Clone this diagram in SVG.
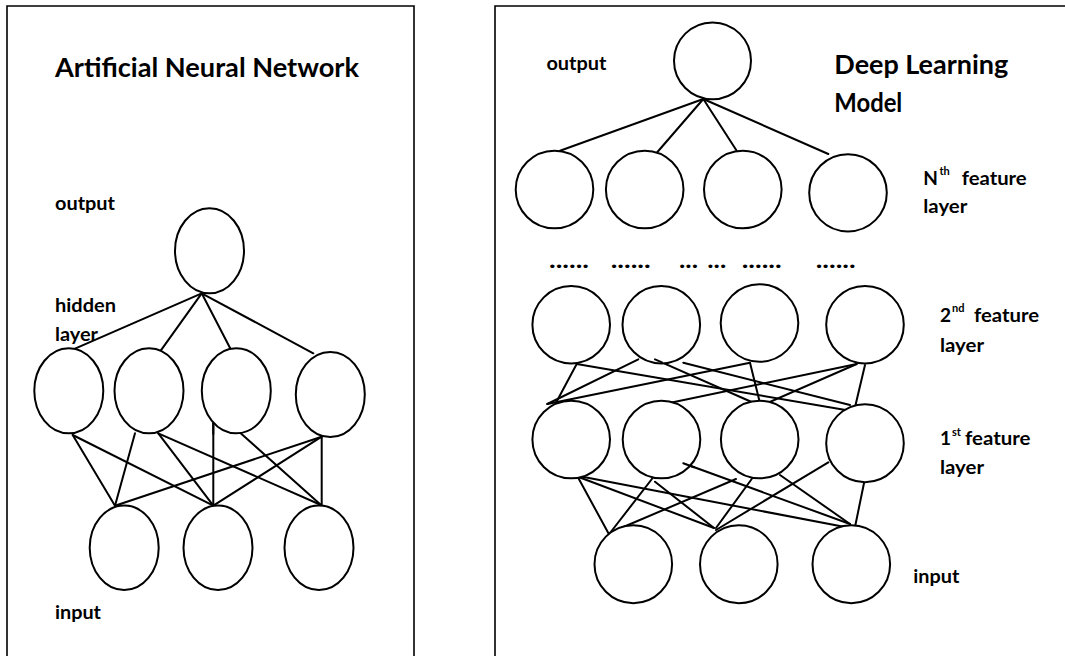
<svg xmlns="http://www.w3.org/2000/svg" width="1065" height="656" viewBox="0 0 1065 656">
<style>
.frame{fill:none;stroke:#000;stroke-width:1.6}
.node{fill:#fff;stroke:#000;stroke-width:2}
.edge line{stroke:#000;stroke-width:2;stroke-linecap:round}
.t{font-family:Lato,"Open Sans","Liberation Sans",sans-serif;font-weight:bold;fill:#000}
.title{font-size:27px}
.lbl{font-size:19px}
.sup{font-size:11px}
.dots{font-size:22px}
</style>
<rect width="1065" height="656" fill="#fff"/>
<!-- panel frames -->
<g id="frames">
<polyline class="frame" points="7,656 7,6 414,6 414,656"/>
<polyline class="frame" points="495,656 495,6 1065,6"/>
</g>

<!-- connectors -->
<g id="connectors" class="edge">
<!-- left: output -> hidden -->
<line x1="201.7" y1="293.3" x2="73.3" y2="349.3"/>
<line x1="201.7" y1="293.3" x2="160" y2="351.7"/>
<line x1="201.7" y1="293.3" x2="230.7" y2="349.3"/>
<line x1="201.7" y1="293.3" x2="313.3" y2="353.3"/>
<!-- left: hidden -> input -->
<line x1="72.7" y1="435" x2="115" y2="505.7"/>
<line x1="72.7" y1="435" x2="213.3" y2="505.7"/>
<line x1="135" y1="433.3" x2="115" y2="505.7"/>
<line x1="158.3" y1="433.3" x2="213.3" y2="505.7"/>
<line x1="158.3" y1="433.3" x2="321" y2="505"/>
<line x1="213.3" y1="423.3" x2="213.3" y2="505.7"/>
<line x1="240.7" y1="433.3" x2="321" y2="505"/>
<line x1="321.7" y1="436.7" x2="115" y2="505.7"/>
<line x1="321.7" y1="436.7" x2="213.3" y2="505.7"/>
<line x1="321.7" y1="436.7" x2="321.7" y2="505"/>
<!-- right: output -> Nth layer -->
<line x1="703.3" y1="99" x2="560" y2="150.7"/>
<line x1="703.3" y1="99" x2="655.7" y2="154"/>
<line x1="703.3" y1="99" x2="736.7" y2="150.7"/>
<line x1="703.3" y1="99" x2="828.3" y2="154"/>
<!-- right: 2nd -> 1st layer -->
<line x1="576.7" y1="364" x2="551.7" y2="410.7"/>
<line x1="576.7" y1="364" x2="850" y2="410.7"/>
<line x1="655" y1="359.3" x2="760.7" y2="406"/>
<line x1="683.3" y1="362.7" x2="850" y2="405"/>
<line x1="547.3" y1="404" x2="638.3" y2="359.3"/>
<line x1="547.3" y1="404" x2="750" y2="362.7"/>
<line x1="655" y1="406" x2="856.7" y2="364"/>
<line x1="760.7" y1="406" x2="856.7" y2="364"/>
<line x1="750" y1="362.7" x2="760.7" y2="406"/>
<line x1="865" y1="365" x2="855" y2="407.3"/>
<!-- right: 1st -> input -->
<line x1="576.7" y1="475" x2="608.3" y2="533"/>
<line x1="573.3" y1="475" x2="714" y2="528"/>
<line x1="573.3" y1="475" x2="845" y2="527"/>
<line x1="655" y1="475" x2="610" y2="533"/>
<line x1="655" y1="481.7" x2="714" y2="528"/>
<line x1="683.3" y1="463.3" x2="850" y2="524"/>
<line x1="736" y1="479" x2="614" y2="531"/>
<line x1="751.7" y1="479" x2="716" y2="528"/>
<line x1="780" y1="475" x2="850" y2="524"/>
<line x1="828.3" y1="462.3" x2="716" y2="530"/>
<line x1="865" y1="478.3" x2="855" y2="527"/>
</g>

<!-- left panel nodes -->
<g id="ann-output"><ellipse class="node" cx="209.5" cy="250.8" rx="34.5" ry="42.5"/></g>
<g id="ann-hidden-1"><ellipse class="node" cx="68.8" cy="390.8" rx="34.5" ry="42.5"/></g>
<g id="ann-hidden-2"><ellipse class="node" cx="149" cy="390.8" rx="34.5" ry="42.5"/></g>
<g id="ann-hidden-3"><ellipse class="node" cx="236.3" cy="390.8" rx="34.5" ry="42.5"/></g>
<g id="ann-hidden-4"><ellipse class="node" cx="330.3" cy="394.5" rx="34.5" ry="42.5"/></g>
<g id="ann-input-1"><ellipse class="node" cx="124.2" cy="547.8" rx="34.5" ry="42.2"/></g>
<g id="ann-input-2"><ellipse class="node" cx="218" cy="547.8" rx="34.5" ry="42.2"/></g>
<g id="ann-input-3"><ellipse class="node" cx="319" cy="547.8" rx="34.5" ry="42.2"/></g>

<!-- right panel nodes -->
<g id="dl-output"><ellipse class="node" cx="712.5" cy="60.8" rx="38.5" ry="38.4"/></g>
<g id="dl-n-1"><ellipse class="node" cx="554.5" cy="189.5" rx="38.8" ry="38.8"/></g>
<g id="dl-n-2"><ellipse class="node" cx="644.7" cy="189.5" rx="38.8" ry="38.8"/></g>
<g id="dl-n-3"><ellipse class="node" cx="742.8" cy="189.5" rx="38.8" ry="38.8"/></g>
<g id="dl-n-4"><ellipse class="node" cx="848" cy="192.8" rx="38.8" ry="38.6"/></g>
<g id="dl-2-1"><ellipse class="node" cx="571.2" cy="324.7" rx="38.8" ry="38.7"/></g>
<g id="dl-2-2"><ellipse class="node" cx="661.3" cy="324.7" rx="38.8" ry="38.7"/></g>
<g id="dl-2-3"><ellipse class="node" cx="759.5" cy="323" rx="38.8" ry="38.7"/></g>
<g id="dl-2-4"><ellipse class="node" cx="865" cy="324.7" rx="38.8" ry="38.7"/></g>
<g id="dl-1-1"><ellipse class="node" cx="571.2" cy="439.5" rx="38.8" ry="38.8"/></g>
<g id="dl-1-2"><ellipse class="node" cx="661.5" cy="439.5" rx="38.8" ry="38.8"/></g>
<g id="dl-1-3"><ellipse class="node" cx="759.7" cy="439.5" rx="38.8" ry="38.8"/></g>
<g id="dl-1-4"><ellipse class="node" cx="865" cy="443.2" rx="38.8" ry="39"/></g>
<g id="dl-in-1"><ellipse class="node" cx="633.3" cy="564.2" rx="38.8" ry="39"/></g>
<g id="dl-in-2"><ellipse class="node" cx="738.8" cy="564.2" rx="38.8" ry="39"/></g>
<g id="dl-in-3"><ellipse class="node" cx="851.3" cy="564.2" rx="38.8" ry="39"/></g>

<!-- connector ends that lie inside node outlines in the reference -->
<g id="connectors-over" class="edge">
<line x1="213.3" y1="423.3" x2="213.3" y2="434"/>
<line x1="655" y1="359.3" x2="662" y2="362.4"/>
<line x1="683.3" y1="463.3" x2="694" y2="467.2"/>
</g>

<!-- left labels -->
<g id="ann-labels">
<text class="t title" x="55" y="76.5" textLength="304" lengthAdjust="spacingAndGlyphs">Artificial Neural Network</text>
<text class="t lbl" x="55" y="210" textLength="60" lengthAdjust="spacingAndGlyphs">output</text>
<text class="t lbl" x="55" y="311.5" textLength="61" lengthAdjust="spacingAndGlyphs">hidden</text>
<text class="t lbl" x="55" y="341" textLength="43" lengthAdjust="spacingAndGlyphs">layer</text>
<text class="t lbl" x="55" y="619" textLength="46" lengthAdjust="spacingAndGlyphs">input</text>
</g>

<!-- right labels -->
<g id="dl-labels">
<text class="t lbl" x="546.4" y="70" textLength="60" lengthAdjust="spacingAndGlyphs">output</text>
<text class="t title" x="834.3" y="74" textLength="174" lengthAdjust="spacingAndGlyphs">Deep Learning</text>
<text class="t title" x="834.3" y="111.7" textLength="68" lengthAdjust="spacingAndGlyphs">Model</text>
<text class="t lbl" x="923.3" y="185">N</text>
<text class="t sup" x="939.5" y="175">th</text>
<text class="t lbl" x="961.7" y="185" textLength="65" lengthAdjust="spacingAndGlyphs">feature</text>
<text class="t lbl" x="923.3" y="213.3" textLength="44" lengthAdjust="spacingAndGlyphs">layer</text>
<text class="t lbl" x="940" y="322">2</text>
<text class="t sup" x="952" y="311.5">nd</text>
<text class="t lbl" x="974" y="322" textLength="65" lengthAdjust="spacingAndGlyphs">feature</text>
<text class="t lbl" x="940" y="351.5" textLength="44" lengthAdjust="spacingAndGlyphs">layer</text>
<text class="t lbl" x="940" y="445">1</text>
<text class="t sup" x="952" y="436">st</text>
<text class="t lbl" x="965" y="445" textLength="65.5" lengthAdjust="spacingAndGlyphs">feature</text>
<text class="t lbl" x="940" y="474" textLength="44" lengthAdjust="spacingAndGlyphs">layer</text>
<text class="t lbl" x="913.3" y="583.3" textLength="46" lengthAdjust="spacingAndGlyphs">input</text>
<text class="t dots" x="549" y="268.3" textLength="40" lengthAdjust="spacingAndGlyphs">......</text>
<text class="t dots" x="610.7" y="268.3" textLength="40" lengthAdjust="spacingAndGlyphs">......</text>
<text class="t dots" x="679" y="268.3" textLength="19" lengthAdjust="spacingAndGlyphs">...</text>
<text class="t dots" x="707.3" y="268.3" textLength="19" lengthAdjust="spacingAndGlyphs">...</text>
<text class="t dots" x="741.7" y="268.3" textLength="40" lengthAdjust="spacingAndGlyphs">......</text>
<text class="t dots" x="815.7" y="268.3" textLength="40" lengthAdjust="spacingAndGlyphs">......</text>
</g>
</svg>
